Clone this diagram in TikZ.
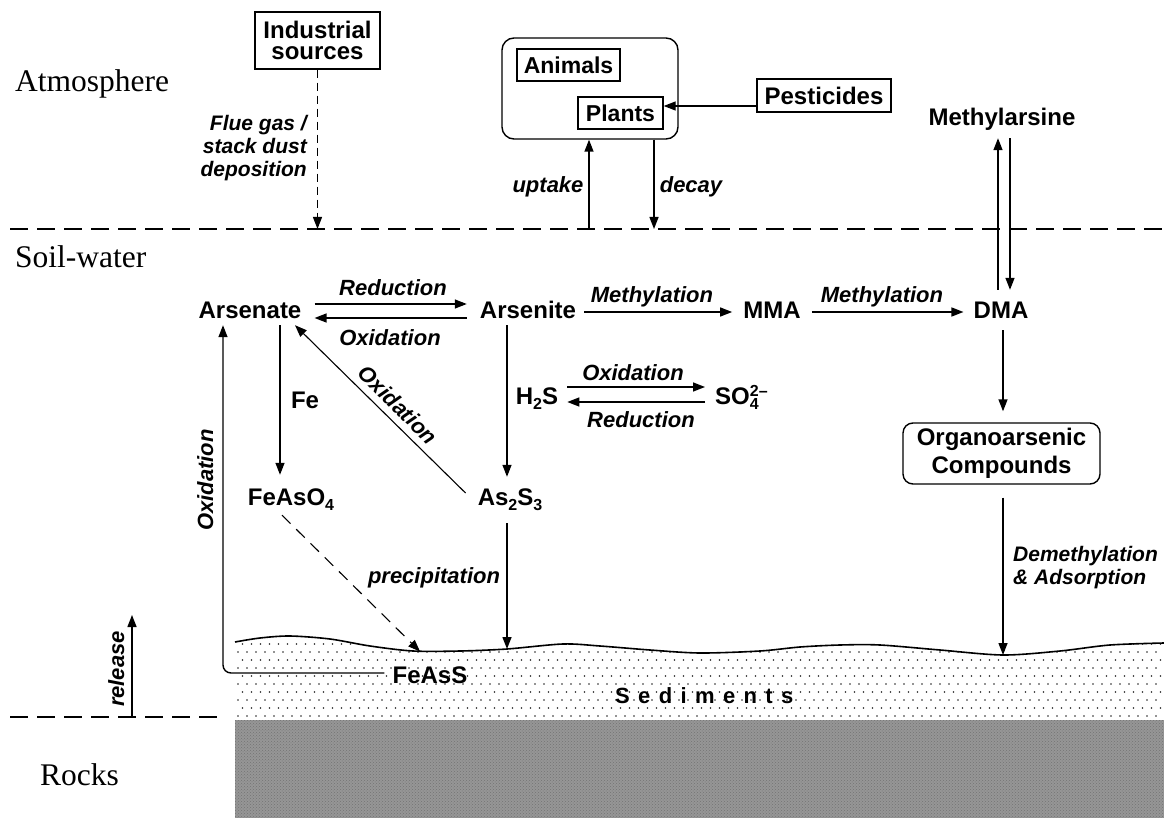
\documentclass[tikz,border=0pt]{standalone}
\usepackage{fontspec}
\setmainfont{Liberation Serif}
\setsansfont{Liberation Sans}
\newfontfamily\sedfont{Liberation Sans}[LetterSpace=38]
\usetikzlibrary{arrows.meta,calc,patterns}
\definecolor{rockgray}{RGB}{150,150,150}
\newcommand{\sbs}[1]{\raisebox{-5pt}{\fontsize{16}{16}\selectfont #1}}
\newcommand{\sps}[2]{\rlap{\raisebox{8pt}{\fontsize{16}{16}\selectfont #1}}\raisebox{-5pt}{\fontsize{16}{16}\selectfont #2}}
\tikzset{
  chem/.style={font=\fontsize{24}{27}\selectfont\sffamily\bfseries, text height=17pt, text depth=5pt, inner sep=0pt},
  lab/.style={font=\fontsize{22}{24}\selectfont\sffamily\bfseries\itshape, text height=16pt, text depth=4pt, inner sep=0pt},
  mlab/.style={font=\fontsize{21}{23}\selectfont\sffamily\bfseries\itshape, inner sep=0pt},
  sbox/.style={draw, line width=1.4pt, inner sep=0pt, font=\fontsize{24}{21}\selectfont\sffamily\bfseries, align=center},
  rbox/.style={draw, line width=1.4pt, inner sep=0pt, align=center},
  arr/.style={line width=1.4pt, -{Triangle[length=12pt,width=9pt]}},
  bound/.style={line width=2.6pt, dash pattern=on 18pt off 9pt},
  layer/.style={font=\fontsize{31.5}{34}\selectfont\rmfamily, anchor=base west, inner sep=0pt}
}
\begin{document}
\begin{tikzpicture}[x=1pt,y=-1pt]
\useasboundingbox (0,0) rectangle (1164,818);
% ---- sediments and rocks
\fill[rockgray] (235,720) rectangle (1164,818);
\fill[pattern=crosshatch dots, pattern color=black!55] (235,720) rectangle (1164,818);
\begin{scope}
\clip plot[smooth, tension=0.5] coordinates {(235,642) (260,638) (290,636) (330,639) (370,646) (413,651) (460,651) (507,649) (563,644) (600,646) (650,650) (700,653) (760,651) (800,647) (840,645) (880,645) (940,650) (1003,655) (1060,651) (1110,645) (1164,643)} -- (1164,720) -- (235,720) -- cycle;
\foreach \r in {0,...,10}{
  \foreach \c in {0,...,103}{
    \fill[black!85] ({238+9*\c+4.5*mod(\r,2)},{636+8*\r}) circle (0.95pt);
  }
}
\end{scope}
\draw[line width=1.6pt] plot[smooth, tension=0.5] coordinates {(235,642) (260,638) (290,636) (330,639) (370,646) (413,651) (460,651) (507,649) (563,644) (600,646) (650,650) (700,653) (760,651) (800,647) (840,645) (880,645) (940,650) (1003,655) (1060,651) (1110,645) (1164,643)};
\coordinate (s1) at (420,651.5);
\coordinate (s2) at (507,649);
\coordinate (s3) at (1003,655);

% ---- layer boundaries
\coordinate (b1l) at (10,229);
\coordinate (b1r) at (1164,229);
\coordinate (b2l) at (10,717);
\coordinate (b2r) at (225,717);
\draw[bound] (b1l) -- (b1r);
\draw[bound] (b2l) -- (b2r);

% ---- layer labels
\node[layer] (atm) at (15,92) {Atmosphere};
\node[layer] (soil) at (15,268) {Soil-water};
\node[layer] (rock) at (40,785) {Rocks};

% ---- atmosphere boxes
\node[sbox, minimum width=125pt, minimum height=57pt] (ind) at (317.5,40.5) {Industrial\\sources};
\node[rbox, rounded corners=12pt, minimum width=176pt, minimum height=101pt] (bio) at (590,88.5) {};
\node[sbox, font=\fontsize{23}{25}\selectfont\sffamily\bfseries, minimum width=103pt, minimum height=32pt] (ani) at (568.5,65) {Animals};
\node[sbox, font=\fontsize{23}{25}\selectfont\sffamily\bfseries, minimum width=85pt, minimum height=32pt] (pla) at (620.5,113) {Plants};
\node[sbox, minimum width=134pt, minimum height=33pt] (pes) at (824,95.5) {Pesticides};
\node[chem] (mth) at (1002,120) {Methylarsine};

% ---- soil-water species
\node[chem] (ars) at (250,312) {Arsenate};
\node[chem] (ari) at (528,312) {Arsenite};
\node[chem] (mma) at (772,312) {MMA};
\node[chem] (dma) at (1001,312) {DMA};
\node[chem] (h2s) at (537,398) {H\sbs{2}S};
\node[chem, anchor=west] (so4) at (715,398) {SO\sps{2–}{4}};
\node[chem] (fe) at (305,402) {Fe};
\node[chem] (feaso4) at (291,499) {FeAsO\sbs{4}};
\node[chem] (as2s3) at (510,499) {As\sbs{2}S\sbs{3}};
\node[chem] (feass) at (430,677) {FeAsS};
\node[rbox, rounded corners=10pt, minimum width=197pt, minimum height=61pt, font=\fontsize{24}{28}\selectfont\sffamily\bfseries] (org) at (1001.5,453.5) {Organoarsenic\\Compounds};
\node[font=\fontsize{22}{24}\selectfont\sedfont\bfseries, anchor=base west, inner sep=0pt] (sed) at (615,703) {Sediments};

% ---- labels
\node[mlab, align=right, anchor=east] (lflue) at (307,148.5) {Flue gas /\\stack dust\\deposition};
\node[lab] (lup) at (548,187) {uptake};
\node[lab] (ldec) at (691,187) {decay};
\node[lab] (lred1) at (393,289) {Reduction};
\node[lab] (lox1) at (390,339) {Oxidation};
\node[lab] (lme1) at (652,296) {Methylation};
\node[lab] (lme2) at (882,296) {Methylation};
\node[lab] (lox2) at (633,374) {Oxidation};
\node[lab] (lred2) at (641,421) {Reduction};
\node[lab] (lpre) at (434,577) {precipitation};
\node[lab, rotate=90] (lox3) at (207,480) {Oxidation};
\node[lab, rotate=90] (lrel) at (118,669) {release};
\node[mlab, align=left, anchor=west] (ldem) at (1013,567.5) {Demethylation\\\& Adsorption};

% ---- atmosphere connectors
\coordinate (i0) at (ind.south |- b1l);
\draw[arr, line width=1.2pt, dash pattern=on 8pt off 5pt] (ind.south) -- (i0);
\coordinate (u0) at (589,229);
\draw[arr] (u0) -- (u0 |- bio.south);
\coordinate (d0) at (654,229);
\draw[arr] (d0 |- bio.south) -- (d0);
\coordinate (pa) at ([yshift=-10.5pt]pes.west);
\draw[arr] (pa) -- (pa -| pla.east);
\coordinate (mu1) at ([xshift=-3pt,yshift=11pt]dma.north);
\coordinate (mu2) at (mu1 |- mth.south);
\draw[arr] (mu1) -- ([yshift=-7pt]mu2);
\coordinate (md1) at ([xshift=8pt,yshift=-7pt]mth.south);
\coordinate (md2) at (md1 |- dma.north);
\draw[arr] (md1) -- ([yshift=11pt]md2);

% ---- soil-water connectors
\draw[arr] ([xshift=13pt,yshift=8pt]ars.east) -- ([xshift=-13pt,yshift=8pt]ari.west);
\draw[arr] ([xshift=-13pt,yshift=-6pt]ari.west) -- ([xshift=13pt,yshift=-6pt]ars.east);
\draw[arr] ([xshift=8pt]ari.east) -- ([xshift=-11pt]mma.west);
\draw[arr] ([xshift=11pt]mma.east) -- ([xshift=-10pt]dma.west);
\draw[arr] ([xshift=9pt,yshift=11pt]h2s.east) -- ([xshift=-10pt,yshift=11pt]so4.west);
\draw[arr] ([xshift=-10pt,yshift=-4pt]so4.west) -- ([xshift=9pt,yshift=-4pt]h2s.east);

\coordinate (fe1) at ([xshift=30pt,yshift=-2pt]ars.south);
\coordinate (fe2) at (fe1 |- feaso4.north);
\draw[arr] (fe1) -- ([yshift=13pt]fe2);

\coordinate (ad1) at ([xshift=-21pt,yshift=-2pt]ari.south);
\coordinate (ad2) at (ad1 |- as2s3.north);
\draw[arr] (ad1) -- ([yshift=11pt]ad2);

\coordinate (dg1) at ([xshift=-12pt,yshift=6pt]as2s3.west);
\coordinate (dg2) at ([xshift=45pt,yshift=-2pt]ars.south);
\draw[arr, line width=1.1pt] (dg1) -- (dg2) node[lab, sloped, pos=0.46, above=3pt] (lox4) {Oxidation};

\coordinate (asd) at ([xshift=-3pt,yshift=-13pt]as2s3.south);
\draw[arr] (asd) -- (s2);

\coordinate (fd) at ([xshift=-9pt,yshift=-5pt]feaso4.south);
\draw[arr, line width=1.1pt, dash pattern=on 12pt off 8pt] (fd) -- (s1);

\coordinate (lo1) at ([xshift=-8pt,yshift=4pt]feass.west);
\coordinate (lo2) at ([xshift=-27pt,yshift=-2pt]ars.south);
\draw[arr, rounded corners=8pt] (lo1) -| (lo2);

\coordinate (dd1) at ([xshift=2pt,yshift=-7pt]dma.south);
\coordinate (dd2) at (dd1 |- org.north);
\draw[arr] (dd1) -- ([yshift=11pt]dd2);

\coordinate (od1) at ([xshift=1.5pt,yshift=-13pt]org.south);
\draw[arr] (od1) -- (s3);

\coordinate (r0) at (132,717);
\coordinate (r1) at (132,615);
\draw[arr] (r0) -- (r1);
\end{tikzpicture}
\end{document}
